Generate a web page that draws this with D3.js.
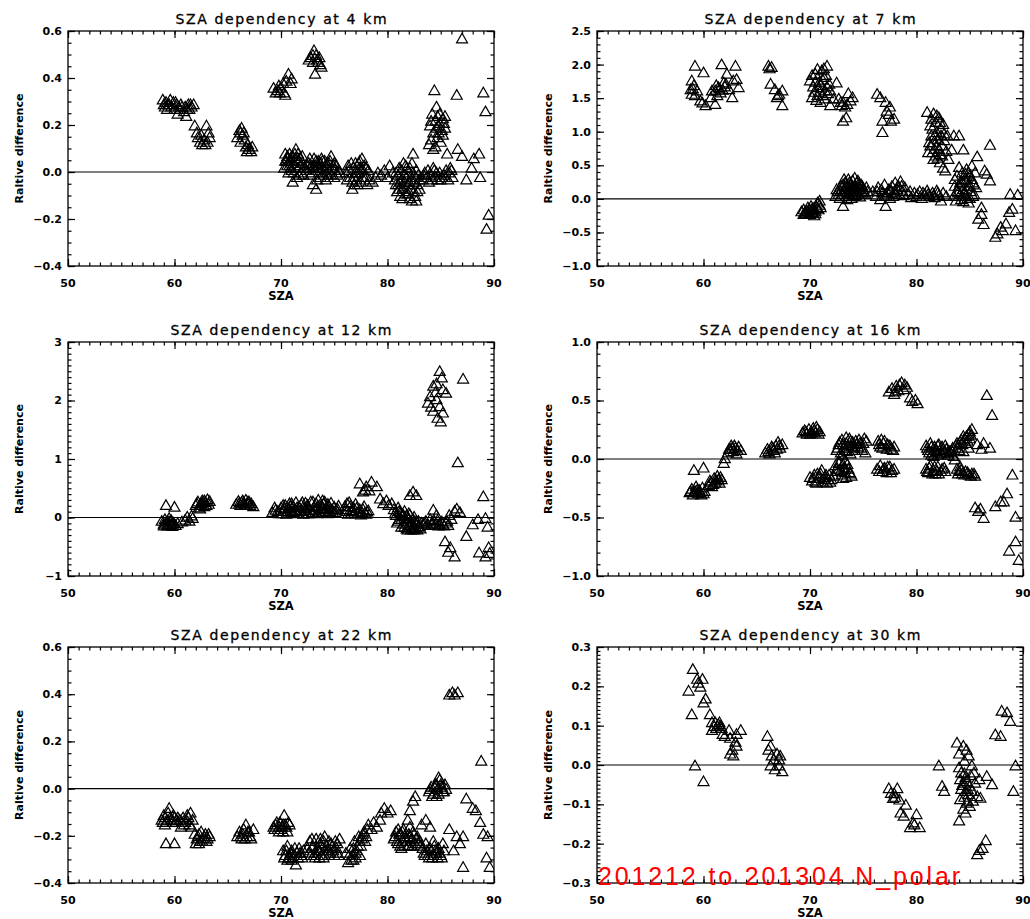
<!DOCTYPE html>
<html><head><meta charset="utf-8">
<script src="https://cdn.jsdelivr.net/npm/d3@7"></script>
<style>body{margin:0;background:#fff}svg{display:block}</style>
</head><body>
<svg id="c" width="1030" height="919"></svg>
<script>
// ---------- data ----------
const altitudes = [4, 7, 12, 16, 22, 30];
const titlePrefix = "SZA dependency at ";
const xLabel = "SZA";
const yLabel = "Raltive difference";
const footNote = "201212 to 201304 N_polar";
const xDomain = [50, 90];
const xTicks = [50, 60, 70, 80, 90];
const yDomains = [[-0.4, 0.6], [-1, 2.5], [-1, 3], [-1, 1], [-0.4, 0.6], [-0.3, 0.3]];
const yTicks = [
  [-0.4, -0.2, 0, 0.2, 0.4, 0.6],
  [-1, -0.5, 0, 0.5, 1, 1.5, 2, 2.5],
  [-1, 0, 1, 2, 3],
  [-1, -0.5, 0, 0.5, 1],
  [-0.4, -0.2, 0, 0.2, 0.4, 0.6],
  [-0.3, -0.2, -0.1, 0, 0.1, 0.2, 0.3]
];
const yMinorSteps = [0.05, 0.1, 0.1, 0.1, 0.05, 0.01];
const yFormats = [".1f", ".1f", "d", ".1f", ".1f", ".1f"];

const p4 = [
[58.9,0.31],[59.0,0.29],[59.1,0.28],[59.2,0.30],[59.4,0.29],[59.6,0.31],[59.7,0.28],[59.9,0.30],[60.0,0.27],[60.2,0.29],[60.3,0.25],[60.5,0.27],[60.7,0.28],[60.9,0.26],[61.0,0.28],[61.1,0.24],[61.3,0.29],[61.4,0.27],[61.6,0.28],[61.8,0.29],[59.3,0.27],[60.6,0.29],
[59.5,0.29],[60.1,0.30],[60.4,0.28],[61.2,0.27],[61.5,0.29],
[61.9,0.20],[62.1,0.17],[62.2,0.15],[62.4,0.13],[62.6,0.12],[62.8,0.14],[62.9,0.12],[63.0,0.20],[63.2,0.17],[63.3,0.15],[62.5,0.16],[63.1,0.13],
[65.9,0.15],[66.1,0.18],[66.2,0.17],[66.3,0.19],[66.4,0.16],[66.5,0.17],[66.6,0.14],[66.2,0.13],[66.7,0.11],[66.9,0.12],[67.0,0.10],[67.2,0.09],[67.3,0.11],[66.8,0.09],
[69.3,0.36],[69.5,0.34],[69.7,0.35],[69.8,0.37],[70.0,0.36],[70.2,0.38],[70.3,0.34],[70.4,0.33],[70.5,0.39],[70.7,0.42],[70.9,0.38],[71.0,0.40],[69.9,0.34],
[72.6,0.48],[72.8,0.49],[73.0,0.50],[73.1,0.52],[73.3,0.50],[73.4,0.48],[73.5,0.47],[73.7,0.46],[73.8,0.45],[73.2,0.42],[73.6,0.49],[73.0,0.47],
[70.3,0.02],[70.5,0.05],[70.6,0.07],[70.8,0.03],[70.9,0.06],[71.0,0.01],[71.1,-0.04],[71.2,0.04],[71.3,0.08],[71.4,0.10],[71.5,0.05],[71.6,0.02],[71.8,0.06],[71.9,0.00],[72.0,0.04],[72.2,0.02],[70.7,0.00],[71.3,0.03],[71.7,-0.01],[70.4,0.08],
[70.4,0.05],[70.6,0.03],[70.8,0.08],[71.0,0.05],[71.2,0.00],[71.4,0.06],[71.6,0.08],[71.8,0.03],[72.0,0.07],[72.1,-0.01],[70.9,0.02],[71.5,-0.02],[70.6,0.06],[71.1,0.07],[71.7,0.05],
[72.4,0.01],[72.6,0.04],[72.8,-0.01],[72.9,0.03],[73.0,-0.05],[73.1,0.06],[73.2,0.01],[73.3,-0.07],[73.4,0.03],[73.5,0.05],[73.6,0.00],[73.7,0.04],[73.8,0.06],[73.9,0.02],[74.0,-0.01],[74.1,0.05],[74.2,0.03],[74.3,0.00],[74.5,0.04],[74.7,0.07],[74.8,0.02],[75.0,-0.02],[75.1,0.01],[75.3,-0.01],[75.5,0.00],[74.4,-0.02],[73.7,0.02],[72.7,0.02],
[72.5,0.03],[72.7,0.06],[72.9,0.00],[73.1,0.03],[73.3,0.05],[73.5,0.02],[73.7,-0.02],[73.9,0.05],[74.1,0.01],[74.3,0.04],[74.5,0.01],[74.6,0.05],[74.9,0.03],[75.2,0.03],[75.4,0.01],[73.0,0.02],[73.4,-0.03],[74.2,-0.03],[74.7,-0.01],[75.0,0.04],
[76.1,0.00],[76.3,0.03],[76.5,-0.02],[76.7,-0.07],[76.8,0.02],[77.0,0.04],[77.1,-0.03],[77.2,0.00],[77.4,0.02],[77.5,-0.04],[77.6,0.06],[77.7,0.01],[77.8,-0.02],[78.0,0.02],[78.1,-0.05],[78.3,-0.03],[76.9,-0.05],[77.3,0.04],
[76.2,-0.03],[76.4,0.01],[76.6,0.04],[76.8,-0.02],[77.0,0.00],[77.2,-0.05],[77.4,0.05],[77.6,-0.02],[77.8,0.03],[78.0,-0.02],[78.2,0.01],[76.7,-0.04],[77.5,0.01],
[78.6,-0.04],[78.9,-0.02],[79.1,0.00],[79.4,-0.01],[79.7,0.01],[80.0,-0.02],[80.2,0.03],[80.5,0.00],
[80.7,-0.03],[80.8,0.00],[80.9,-0.08],[81.0,-0.05],[81.1,0.02],[81.2,-0.10],[81.3,-0.03],[81.4,-0.07],[81.5,0.04],[81.6,-0.01],[81.7,-0.09],[81.8,0.02],[81.9,-0.05],[82.0,0.00],[82.1,-0.11],[82.2,-0.03],[82.3,0.04],[82.4,0.08],[82.5,-0.08],[82.6,-0.02],[82.7,-0.12],[82.8,-0.05],[82.9,-0.01],[83.0,-0.07],[81.5,-0.06],[82.0,-0.08],
[80.8,-0.05],[81.0,-0.01],[81.1,-0.07],[81.3,0.01],[81.4,-0.11],[81.6,-0.04],[81.7,0.03],[81.9,-0.09],[82.0,-0.04],[82.1,0.02],[82.2,-0.07],[82.3,-0.12],[82.4,0.00],[82.5,-0.04],[82.6,-0.10],[82.7,0.01],[82.8,-0.08],[83.0,-0.03],[81.2,-0.04],[81.8,-0.02],
[83.3,-0.03],[83.5,0.00],[83.7,-0.02],[83.9,-0.04],[84.1,-0.01],[84.3,0.02],[84.5,-0.02],[84.7,-0.03],[84.9,0.00],[85.1,-0.02],[85.3,-0.01],[85.5,0.01],[85.7,-0.03],[85.9,0.02],[86.1,-0.02],[84.4,0.01],
[83.4,-0.01],[83.8,0.01],[84.2,-0.03],[84.6,0.00],[85.0,-0.03],[85.4,-0.02],[85.8,0.00],[86.0,0.01],
[83.9,0.12],[84.0,0.20],[84.1,0.14],[84.2,0.25],[84.3,0.17],[84.4,0.35],[84.5,0.22],[84.6,0.28],[84.7,0.15],[84.8,0.20],[84.9,0.25],[85.0,0.13],[85.1,0.18],[85.2,0.23],[85.3,0.21],[85.4,0.19],[84.5,0.11],[84.8,0.17],
[84.3,0.10],[84.6,0.19],[84.9,0.21],[85.2,0.16],[84.1,0.22],[85.4,0.24],[84.7,0.24],
[85.6,0.08],[86.6,0.10],[87.0,0.07],[87.4,-0.03],[88.1,0.06],[88.6,0.08],[87.9,0.02],[88.7,-0.02],[87.0,0.57],[86.5,0.33],[89.0,0.34],[89.2,0.26],[89.5,-0.18],[89.3,-0.24]
];

const p7 = [
[59.2,1.99],[60.0,1.89],[58.9,1.77],[58.8,1.64],[58.9,1.57],[59.7,1.47],[60.2,1.40],[61.1,1.42],[60.8,1.62],[61.4,1.67],[61.9,1.74],[61.7,2.01],[62.2,1.87],[62.4,1.64],[62.7,1.52],[63.0,1.99],[63.1,1.79],[63.3,1.67],[62.8,1.77],[59.4,1.62],[61.1,1.62],[61.6,1.59],[59.1,1.70],[61.3,1.55],[62.0,1.68],[59.9,1.44],
[59.2,1.55],[59.0,1.65],[61.5,1.65],[61.8,1.63],[62.1,1.72],[60.7,1.52],[61.2,1.70],
[66.1,1.99],[66.4,1.97],[66.2,1.95],[66.3,1.72],[66.7,1.64],[67.1,1.57],[67.4,1.62],[67.4,1.40],[66.9,1.52],[67.0,1.55],
[70.7,1.94],[71.6,1.99],[70.0,1.77],[70.2,1.52],[71.0,1.45],[71.9,1.40],[70.8,1.67],[71.3,1.82],[71.4,1.62],[70.5,1.87],[71.1,1.92],[71.8,1.72],[72.2,1.50],[72.5,1.74],[70.4,1.60],[70.9,1.75],[71.2,1.55],[71.5,1.85],[70.6,1.48],[71.0,1.70],[71.7,1.58],[70.3,1.68],
[70.2,1.85],[70.5,1.75],[70.9,1.60],[71.2,1.78],[71.4,1.50],[71.6,1.68],[71.9,1.62],[70.7,1.55],[71.3,1.95],
[73.1,1.45],[73.6,1.58],[73.8,1.47],[73.1,1.17],[73.4,1.22],[72.7,1.50],[73.0,1.40],[74.0,1.52],[73.3,1.38],[72.9,1.45],[73.5,1.42],
[76.3,1.57],[77.1,1.45],[77.2,1.32],[76.8,1.17],[77.6,1.17],[76.8,1.00],[77.9,1.20],[77.4,1.27],[76.6,1.52],[77.5,1.38],
[81.0,1.30],[82.1,1.22],[81.3,1.10],[81.9,1.00],[81.6,0.85],[82.6,0.88],[81.1,0.70],[82.2,0.67],[82.8,0.72],[82.5,0.47],[82.7,0.43],[83.5,0.95],[84.0,0.95],[83.3,0.74],[84.4,0.74],[85.7,0.64],[86.9,0.81],[81.5,1.05],[81.8,1.15],[82.0,0.90],[82.3,1.05],[81.4,0.95],[82.4,0.80],[81.7,0.75],[82.0,0.62],[81.2,0.85],[82.9,0.95],[81.9,1.25],[82.5,1.12],[81.6,0.60],[83.0,0.60],[82.2,0.55],
[81.3,0.80],[81.5,0.70],[81.7,0.95],[81.9,0.80],[82.1,0.75],[82.3,0.95],[82.4,0.65],[81.8,0.65],[82.6,0.98],[81.4,1.20],[82.2,1.15],[81.6,1.28],
[86.4,0.43],[86.6,0.38],[86.9,0.28],[86.1,-0.12],[85.8,-0.29],[86.3,-0.37],[86.1,-0.22],[87.4,-0.56],[87.9,-0.41],[88.4,-0.36],[88.7,-0.19],[89.0,-0.14],[89.3,-0.46],[88.8,0.08],[89.5,0.07],[88.1,-0.46],[87.6,-0.51],
[69.2,-0.18],[69.4,-0.15],[69.6,-0.20],[69.8,-0.12],[69.9,-0.22],[70.0,-0.16],[70.1,-0.10],[70.2,-0.19],[70.3,-0.13],[70.4,-0.24],[70.5,-0.17],[70.6,-0.11],[70.7,-0.05],[70.8,-0.15],[70.9,-0.02],[71.0,-0.12],[69.7,-0.17],[70.3,-0.20],
[69.5,-0.20],[69.8,-0.18],[70.0,-0.22],[70.2,-0.14],[70.5,-0.21],[70.7,-0.13],[69.4,-0.22],[70.9,-0.08],
[72.4,0.05],[72.6,0.12],[72.8,0.02],[72.9,0.20],[73.0,0.08],[73.1,-0.10],[73.2,0.15],[73.3,0.25],[73.4,0.05],[73.5,0.18],[73.6,0.30],[73.7,0.10],[73.8,0.22],[73.9,0.02],[74.0,0.28],[74.1,0.14],[74.2,0.20],[74.3,0.06],[74.4,0.25],[74.5,0.12],[74.6,0.18],[74.7,0.04],[74.8,0.22],[74.9,0.10],[75.0,0.15],[75.2,0.08],[75.4,0.12],[73.5,0.00],[74.0,0.08],[73.8,0.15],[74.5,0.28],[73.2,0.30],
[72.5,0.15],[72.7,0.08],[72.9,0.12],[73.1,0.22],[73.3,0.12],[73.4,0.20],[73.6,0.08],[73.7,0.25],[73.9,0.18],[74.1,0.05],[74.2,0.32],[74.3,0.16],[74.4,0.10],[74.6,0.24],[74.7,0.15],[74.9,0.20],[75.1,0.10],[75.3,0.18],[73.5,0.12],[74.0,0.20],
[75.9,0.12],[76.2,0.05],[76.4,0.18],[76.6,0.00],[76.8,0.10],[77.0,0.22],[77.1,-0.10],[77.2,0.05],[77.4,0.15],[77.5,0.02],[77.7,0.20],[77.9,0.10],[78.0,0.25],[78.2,0.15],[78.4,0.08],[78.5,0.27],[78.7,0.12],[78.9,0.18],[77.8,0.05],[78.3,0.20],
[76.3,0.12],[76.7,0.15],[77.0,0.05],[77.3,0.10],[77.6,0.13],[78.1,0.08],[78.6,0.20],[78.8,0.06],
[79.2,0.08],[79.5,0.03],[79.8,0.10],[80.0,0.05],[80.3,0.12],[80.5,0.02],[80.8,0.08],[81.0,0.13],[81.2,0.05],[81.5,0.10],[81.7,0.03],[81.9,0.13],[82.1,0.06],[82.3,-0.02],[82.5,0.10],[82.8,0.05],
[79.4,0.12],[80.1,0.08],[80.6,0.10],[81.1,0.08],[81.6,0.06],[82.0,0.10],
[83.5,0.05],[83.6,0.20],[83.7,-0.02],[83.8,0.35],[83.9,0.10],[84.0,0.48],[84.1,0.25],[84.2,0.00],[84.3,0.40],[84.4,0.15],[84.5,0.30],[84.6,0.05],[84.7,0.45],[84.8,0.20],[84.9,-0.05],[85.0,0.35],[85.1,0.12],[85.2,0.50],[85.3,0.25],[85.4,0.08],[85.5,0.40],[85.6,0.18],[84.2,0.28],[84.6,0.38],[85.0,0.02],[84.4,-0.03],
[83.6,0.30],[83.8,0.12],[84.0,0.20],[84.1,0.08],[84.3,0.25],[84.5,0.10],[84.7,0.30],[84.8,0.02],[85.0,0.20],[85.2,0.30],[85.4,0.22],[84.3,0.05],[84.9,0.40],[85.3,0.05]
];

const p12 = [
[59.2,0.22],[60.0,0.19],[58.8,-0.05],[59.0,-0.10],[59.1,-0.02],[59.3,-0.13],[59.4,-0.06],[59.5,0.00],[59.6,-0.11],[59.7,-0.04],[59.8,-0.14],[59.9,-0.08],[60.1,-0.12],[60.3,-0.09],
[59.2,-0.08],[59.4,-0.12],[59.6,-0.05],[59.8,-0.10],[59.0,-0.13],
[60.7,-0.06],[61.0,-0.03],[61.2,0.02],[61.4,-0.05],[61.6,0.04],[61.7,0.00],
[62.0,0.22],[62.2,0.28],[62.3,0.18],[62.5,0.25],[62.6,0.30],[62.8,0.20],[62.9,0.27],[63.1,0.32],[63.2,0.24],[63.3,0.29],[62.4,0.16],
[62.1,0.25],[62.4,0.22],[62.7,0.27],[63.0,0.22],[62.8,0.30],
[65.8,0.24],[66.0,0.29],[66.2,0.22],[66.4,0.30],[66.5,0.26],[66.7,0.31],[66.8,0.23],[67.0,0.28],[67.2,0.25],[67.4,0.20],
[66.1,0.26],[66.3,0.27],[66.6,0.22],[66.9,0.28],[67.1,0.22],
[69.2,0.10],[69.5,0.14],[69.8,0.08],[70.0,0.18],[70.2,0.12],[70.4,0.22],[70.5,0.07],[70.7,0.16],[70.8,0.25],[71.0,0.10],[71.1,0.20],[71.3,0.14],[71.4,0.27],[71.6,0.09],[71.7,0.19],[71.9,0.23],[72.0,0.12],[72.2,0.17],[72.4,0.08],[72.5,0.22],[72.7,0.13],[72.8,0.28],[73.0,0.10],[73.1,0.19],[73.3,0.25],[73.4,0.08],[73.5,0.31],[73.7,0.15],[73.8,0.22],[74.0,0.10],[74.1,0.28],[74.3,0.17],[74.4,0.24],[74.6,0.12],[74.7,0.26],[74.9,0.09],[75.0,0.19],[75.2,0.14],[75.4,0.21],[73.9,0.30],[72.3,0.26],[70.9,0.12],
[69.4,0.18],[69.7,0.12],[70.1,0.08],[70.3,0.16],[70.6,0.11],[70.9,0.20],[71.2,0.08],[71.5,0.18],[71.8,0.13],[72.1,0.07],[72.3,0.14],[72.6,0.18],[72.9,0.09],[73.2,0.14],[73.6,0.10],[73.9,0.17],[74.2,0.12],[74.5,0.20],[74.8,0.15],[75.1,0.10],[75.3,0.16],[71.0,0.25],[72.0,0.27],[73.0,0.28],[74.0,0.24],[70.2,0.22],[73.5,0.20],[72.6,0.08],[74.4,0.08],[71.4,0.12],
[76.0,0.20],[76.2,0.12],[76.4,0.27],[76.6,0.09],[76.8,0.18],[77.0,0.24],[77.2,0.08],[77.4,0.15],[77.6,0.10],[77.8,0.20],[78.0,0.07],[78.2,0.13],
[76.1,0.15],[76.3,0.07],[76.5,0.20],[76.7,0.13],[76.9,0.08],[77.1,0.17],[77.3,0.11],[77.5,0.06],[77.7,0.15],[77.9,0.09],[78.1,0.11],[76.2,0.25],
[77.4,0.59],[78.5,0.62],[78.0,0.54],[77.7,0.45],[79.0,0.54],[77.9,0.48],[78.3,0.47],
[79.3,0.33],[79.9,0.30],[80.4,0.25],[79.6,0.25],[80.1,0.22],
[80.6,0.15],[80.8,0.05],[80.9,-0.08],[81.0,0.18],[81.1,-0.02],[81.2,0.10],[81.3,-0.15],[81.4,0.03],[81.5,-0.10],[81.6,0.12],[81.7,-0.05],[81.8,-0.18],[81.9,0.00],[82.0,-0.12],[82.1,0.06],[82.2,-0.20],[82.3,-0.08],[82.4,-0.15],[82.5,0.02],[82.6,-0.18],[82.7,-0.10],[82.8,-0.20],[82.9,-0.05],[83.0,-0.14],[83.2,-0.08],[81.3,0.08],[81.8,0.05],[82.0,-0.02],
[80.7,0.08],[81.0,-0.05],[81.1,0.12],[81.3,-0.02],[81.5,0.05],[81.6,-0.15],[81.8,-0.08],[82.0,0.08],[82.2,-0.12],[82.4,-0.02],[82.5,-0.20],[82.7,-0.05],[82.9,-0.15],[83.1,-0.18],[82.3,-0.18],[81.9,-0.20],
[82.4,0.45],[82.1,0.39],[82.7,0.39],
[83.4,-0.10],[83.6,-0.05],[83.8,-0.12],[84.0,-0.02],[84.3,0.14],[84.2,-0.08],[84.5,-0.12],[84.7,-0.04],[84.9,-0.10],[85.1,-0.06],[85.3,-0.13],[85.5,-0.08],[85.8,0.05],[86.0,-0.02],[86.3,0.12],[86.5,0.16],[86.8,0.10],[85.7,-0.12],
[83.5,-0.08],[84.1,-0.10],[84.4,-0.05],[84.8,-0.13],[85.2,-0.10],[85.6,-0.05],[84.6,0.05],
[84.9,2.51],[85.1,2.40],[84.3,2.26],[85.2,2.20],[84.0,2.08],[84.6,2.03],[83.8,1.97],[84.9,1.91],[84.3,1.83],[85.2,1.80],[84.7,1.71],[85.5,2.14],[84.5,2.15],[84.1,1.90],[85.0,1.65],[84.6,2.30],
[87.1,2.38],[86.6,0.95],[89.0,0.37],[85.4,-0.40],[85.9,-0.50],[86.3,-0.66],[85.7,-0.58],[87.4,-0.31],[88.0,-0.11],[88.5,-0.02],[88.6,-0.59],[89.2,0.00],[89.5,-0.50],[89.2,-0.66],[89.6,-0.60],[89.4,-0.15]
];

const p16 = [
[59.1,-0.09],[60.0,-0.07],[58.7,-0.28],[58.9,-0.25],[59.0,-0.30],[59.2,-0.27],[59.3,-0.23],[59.5,-0.29],[59.6,-0.26],[59.8,-0.30],[59.9,-0.24],[60.1,-0.27],
[58.8,-0.27],[59.1,-0.28],[59.4,-0.26],[59.7,-0.28],[60.0,-0.29],
[60.5,-0.22],[60.7,-0.19],[60.9,-0.21],[61.0,-0.16],[61.2,-0.18],[61.3,-0.14],[61.5,-0.20],[61.7,-0.17],
[60.6,-0.18],[60.8,-0.23],[61.1,-0.20],[61.4,-0.17],[61.6,-0.15],
[61.9,-0.03],[62.0,0.01],
[62.3,0.06],[62.5,0.09],[62.6,0.12],[62.8,0.07],[63.0,0.10],[63.1,0.05],[63.3,0.11],[63.5,0.08],
[62.7,0.10],[62.9,0.12],[63.2,0.08],[62.4,0.09],
[65.8,0.06],[66.0,0.09],[66.2,0.05],[66.4,0.11],[66.6,0.08],[66.8,0.12],[67.0,0.15],[67.2,0.10],[67.4,0.13],
[66.1,0.07],[66.5,0.10],[66.9,0.09],[67.1,0.12],[66.7,0.06],
[69.3,0.23],[69.5,0.25],[69.7,0.22],[69.9,0.26],[70.1,0.24],[70.3,0.27],[70.5,0.23],[70.7,0.26],[70.9,0.24],
[69.6,0.24],[70.0,0.22],[70.4,0.25],[70.6,0.28],[70.8,0.22],[70.2,0.23],
[70.0,-0.15],[70.2,-0.18],[70.4,-0.13],[70.6,-0.20],[70.8,-0.16],[71.0,-0.12],[71.2,-0.19],[71.4,-0.15],[71.6,-0.20],[71.8,-0.13],[72.0,-0.17],[72.2,-0.14],[71.1,-0.09],
[70.3,-0.16],[70.5,-0.19],[70.9,-0.14],[71.3,-0.17],[71.5,-0.13],[71.7,-0.17],[71.9,-0.19],[70.7,-0.12],
[72.5,0.08],[72.7,0.13],[72.9,0.06],[73.0,0.17],[73.2,0.10],[73.4,0.14],[73.5,0.07],[73.7,0.18],[73.9,0.11],[74.0,0.15],[74.2,0.08],[74.4,0.13],[74.6,0.17],[74.8,0.10],[75.0,0.14],[75.2,0.06],[75.3,0.16],[73.8,0.05],
[72.6,0.10],[72.8,0.15],[73.1,0.13],[73.3,0.08],[73.6,0.12],[73.8,0.16],[74.1,0.10],[74.3,0.16],[74.5,0.11],[74.7,0.14],[74.9,0.08],[75.1,0.18],[73.0,0.04],[73.4,0.19],
[72.4,-0.05],[72.6,-0.10],[72.8,-0.02],[73.0,-0.13],[73.2,-0.07],[73.4,-0.15],[73.5,-0.04],[73.7,-0.11],[73.9,-0.14],[73.3,-0.01],
[72.5,-0.08],[72.7,-0.03],[72.9,-0.09],[73.1,-0.04],[73.3,-0.11],[73.6,-0.08],[73.8,-0.12],[73.1,-0.16],
[76.4,0.16],[76.6,0.11],[76.9,0.14],[77.2,0.09],[77.5,0.12],[77.8,0.08],[76.7,0.17],
[76.5,0.13],[76.8,0.10],[77.0,0.16],[77.3,0.13],[77.6,0.09],[77.9,0.11],
[76.3,-0.08],[76.6,-0.05],[76.8,-0.10],[77.0,-0.07],[77.2,-0.11],[77.5,-0.06],[77.7,-0.09],
[76.5,-0.10],[76.9,-0.08],[77.3,-0.06],[77.6,-0.11],[77.9,-0.08],
[78.6,0.66],[77.7,0.61],[78.1,0.63],[79.4,0.53],[79.9,0.51],[80.1,0.48],[79.1,0.62],[78.3,0.59],[77.4,0.58],[78.8,0.60],
[78.0,0.58],[78.4,0.64],[78.9,0.64],[79.6,0.50],[77.9,0.56],
[80.9,0.12],[81.1,0.08],[81.3,0.14],[81.5,0.06],[81.7,0.11],[81.9,0.07],[82.1,0.13],[82.3,0.05],[82.5,0.09],[82.7,0.12],[82.9,0.06],[81.6,0.03],
[81.0,0.10],[81.2,0.06],[81.4,0.11],[81.8,0.09],[82.0,0.12],[82.2,0.08],[82.4,0.11],[82.6,0.06],[82.8,0.09],[83.1,0.07],[81.4,0.04],[82.0,0.04],
[80.9,-0.08],[81.1,-0.11],[81.3,-0.05],[81.6,-0.09],[81.8,-0.12],[82.0,-0.06],[82.3,-0.10],[82.6,-0.07],
[81.0,-0.10],[81.2,-0.07],[81.5,-0.12],[81.7,-0.06],[81.9,-0.10],[82.1,-0.12],[82.4,-0.08],[82.7,-0.10],
[83.0,0.04],[83.3,0.08],[83.5,0.03],[83.7,0.12],[83.9,0.10],[84.1,0.15],[84.3,0.13],[84.5,0.18],[84.7,0.20],[84.8,0.16],[85.0,0.24],[85.1,0.21],[84.4,0.07],[83.6,0.00],
[83.2,0.06],[83.4,0.10],[83.8,0.14],[84.0,0.08],[84.2,0.17],[84.4,0.20],[84.6,0.14],[84.9,0.22],[85.0,0.18],[85.2,0.26],
[83.8,-0.08],[84.0,-0.10],[84.3,-0.12],[84.6,-0.10],[84.9,-0.13],[85.2,-0.12],[85.5,-0.14],[84.1,-0.06],
[83.9,-0.12],[84.2,-0.09],[84.5,-0.13],[84.8,-0.11],[85.1,-0.14],[85.4,-0.12],
[84.9,0.10],[85.7,0.13],[86.3,0.14],[86.9,0.10],[86.6,0.55],[87.1,0.38],[86.1,0.09],
[85.5,-0.41],[85.8,-0.44],[86.3,-0.50],[87.4,-0.40],[87.9,-0.36],[88.5,-0.29],[89.0,-0.13],[89.3,-0.49],[88.7,-0.78],[89.3,-0.70],[89.6,-0.86],[88.2,-0.36],[86.0,-0.42]
];

const p22 = [
[58.8,-0.13],[59.0,-0.11],[59.2,-0.14],[59.4,-0.10],[59.5,-0.08],[59.7,-0.13],[59.9,-0.11],[60.1,-0.14],[60.3,-0.12],[59.2,-0.23],[60.0,-0.23],[59.1,-0.15],
[58.9,-0.14],[59.1,-0.12],[59.3,-0.13],[59.6,-0.12],[59.8,-0.14],[60.0,-0.12],[60.2,-0.13],
[60.5,-0.13],[60.6,-0.16],[60.8,-0.12],[61.0,-0.14],[61.2,-0.11],[61.4,-0.15],[61.7,-0.13],[61.5,-0.10],
[60.7,-0.14],[60.9,-0.15],[61.1,-0.13],[61.3,-0.12],[61.6,-0.16],
[61.9,-0.19],[62.0,-0.23],[62.2,-0.20],[62.4,-0.22],[62.5,-0.18],[62.7,-0.21],[62.9,-0.19],[63.1,-0.21],[63.3,-0.20],[62.3,-0.23],
[62.1,-0.21],[62.3,-0.19],[62.6,-0.22],[62.8,-0.20],[63.0,-0.22],[63.2,-0.19],
[65.9,-0.20],[66.1,-0.18],[66.3,-0.21],[66.5,-0.17],[66.7,-0.15],[66.8,-0.20],[67.0,-0.18],[67.2,-0.21],[67.4,-0.17],
[66.2,-0.20],[66.4,-0.19],[66.6,-0.21],[66.9,-0.18],[67.1,-0.20],
[69.3,-0.16],[69.5,-0.15],[69.7,-0.17],[69.9,-0.14],[70.1,-0.16],[70.3,-0.11],[70.4,-0.15],[70.6,-0.18],[70.8,-0.15],[70.2,-0.18],
[69.4,-0.17],[69.6,-0.14],[69.8,-0.16],[70.0,-0.17],[70.2,-0.15],[70.5,-0.16],[70.7,-0.14],[69.8,-0.18],
[70.2,-0.26],[70.4,-0.28],[70.6,-0.24],[70.8,-0.29],[71.0,-0.26],[71.2,-0.28],[71.4,-0.32],[71.5,-0.27],[71.7,-0.25],[71.9,-0.28],[72.1,-0.26],
[70.3,-0.29],[70.5,-0.26],[70.7,-0.29],[70.9,-0.27],[71.1,-0.29],[71.3,-0.25],[71.6,-0.29],[71.8,-0.27],[72.0,-0.29],[71.0,-0.30],[70.6,-0.30],
[72.5,-0.25],[72.7,-0.22],[72.8,-0.28],[73.0,-0.24],[73.2,-0.27],[73.3,-0.21],[73.5,-0.26],[73.7,-0.23],[73.8,-0.28],[74.0,-0.22],[74.2,-0.26],[74.3,-0.24],[74.5,-0.28],[74.7,-0.23],[74.9,-0.26],[75.1,-0.22],[75.3,-0.27],[75.5,-0.21],[73.6,-0.29],[74.1,-0.20],
[72.6,-0.27],[72.9,-0.25],[73.1,-0.28],[73.4,-0.25],[73.6,-0.26],[73.9,-0.25],[74.1,-0.28],[74.4,-0.26],[74.6,-0.27],[74.8,-0.24],[75.0,-0.28],[75.2,-0.25],[75.4,-0.28],[73.2,-0.29],[74.0,-0.29],[74.5,-0.22],[72.9,-0.21],[73.7,-0.21],[75.3,-0.23],
[76.1,-0.27],[76.3,-0.31],[76.5,-0.25],[76.7,-0.28],[76.9,-0.22],[77.1,-0.26],[77.3,-0.20],[77.5,-0.24],[77.7,-0.19],[77.9,-0.22],[78.1,-0.17],[76.8,-0.30],[77.4,-0.28],
[76.4,-0.28],[76.6,-0.30],[76.8,-0.25],[77.0,-0.29],[77.2,-0.24],[77.4,-0.22],[77.6,-0.21],[77.8,-0.18],[78.0,-0.20],[77.0,-0.27],
[78.2,-0.15],[78.5,-0.17],[78.7,-0.14],[79.0,-0.16],[79.3,-0.13],
[79.4,-0.10],[79.7,-0.08],[80.0,-0.10],[80.3,-0.09],
[80.6,-0.21],[80.8,-0.18],[81.0,-0.23],[81.2,-0.19],[81.4,-0.22],[81.5,-0.17],[81.7,-0.21],[81.9,-0.24],[82.0,-0.19],[82.2,-0.22],[82.4,-0.18],[82.6,-0.23],[82.8,-0.20],[83.0,-0.22],[81.3,-0.25],[82.1,-0.16],
[80.7,-0.20],[80.9,-0.22],[81.1,-0.19],[81.2,-0.24],[81.4,-0.18],[81.6,-0.20],[81.8,-0.22],[82.0,-0.24],[82.1,-0.20],[82.3,-0.21],[82.5,-0.19],[82.7,-0.21],[82.9,-0.23],[81.0,-0.17],[81.6,-0.24],[82.3,-0.24],
[82.1,-0.09],[82.4,-0.05],[82.6,-0.03],[81.9,-0.13],
[83.2,-0.15],[83.6,-0.13],[84.0,-0.16],
[83.1,-0.24],[83.4,-0.27],[83.6,-0.23],[83.8,-0.28],[84.0,-0.25],[84.2,-0.29],[84.4,-0.24],[84.6,-0.27],[84.8,-0.25],[85.0,-0.28],[85.2,-0.23],[84.3,-0.22],
[83.3,-0.25],[83.5,-0.28],[83.7,-0.26],[83.9,-0.29],[84.1,-0.26],[84.3,-0.28],[84.5,-0.26],[84.7,-0.29],[84.9,-0.27],[85.1,-0.29],[85.3,-0.26],
[83.9,-0.01],[84.1,0.01],[84.3,-0.02],[84.5,0.02],[84.7,0.00],[84.9,0.04],[85.1,0.01],[85.3,-0.01],[85.5,0.00],[84.6,-0.03],
[84.0,0.00],[84.2,-0.03],[84.4,0.01],[84.6,0.02],[84.8,-0.02],[85.0,0.02],[85.2,-0.01],[85.4,0.02],[84.8,0.05],
[85.8,0.40],[86.1,0.41],[86.3,0.40],[86.6,0.41],
[85.8,-0.17],[86.5,-0.20],[86.8,-0.23],[87.1,-0.20],[86.2,-0.26],
[87.4,-0.04],[88.0,-0.08],[88.3,-0.09],[88.7,-0.14],[89.0,-0.19],[89.4,-0.20],[89.3,-0.29],[89.6,-0.33],[87.1,-0.33],[88.8,0.12]
];

const p30 = [
[59.0,0.245],[58.6,0.19],[58.9,0.13],[59.4,0.22],[59.5,0.21],[59.9,0.22],[59.7,0.20],[59.2,0.00],[60.0,-0.04],[60.2,0.17],[60.0,0.16],
[60.6,0.13],[60.8,0.11],[61.0,0.10],[61.1,0.11],[61.3,0.10],[61.4,0.105],[61.6,0.10],[61.7,0.095],[60.8,0.09],[61.8,0.08],[62.0,0.075],[62.4,0.09],[62.5,0.07],[62.7,0.04],[62.5,0.03],[62.8,0.025],[63.0,0.06],[63.1,0.08],[63.1,0.05],[63.5,0.09],[61.2,0.095],[61.5,0.11],
[66.0,0.075],[66.3,0.05],[66.1,0.04],[66.4,0.025],[66.6,0.015],[66.3,0.00],[66.9,0.03],[67.1,0.015],[67.2,0.025],[66.7,-0.01],[67.1,0.00],[67.4,-0.015],
[77.4,-0.058],[78.2,-0.058],[77.9,-0.071],[77.8,-0.083],[78.4,-0.087],[79.0,-0.10],[78.5,-0.12],[78.8,-0.128],[80.0,-0.124],[79.7,-0.145],[79.4,-0.157],[80.3,-0.157],[79.8,-0.15],[77.6,-0.07],[78.0,-0.08],
[82.1,0.00],[82.4,-0.052],[82.6,-0.065],
[83.8,0.058],[84.4,0.05],[84.7,0.04],[84.0,0.03],[84.9,0.025],[84.5,0.012],[84.0,-0.005],[85.2,0.00],[84.2,-0.018],[85.4,-0.018],[84.1,-0.035],[84.4,-0.044],[84.7,-0.04],[85.0,-0.052],[85.5,-0.044],[84.6,-0.065],[84.9,-0.073],[85.2,-0.065],[84.1,-0.086],[85.7,-0.078],[84.7,-0.095],[85.0,-0.103],[84.4,-0.11],[84.6,-0.12],[84.0,-0.14],[85.9,-0.035],[86.0,-0.082],[84.3,-0.05],[84.8,-0.06],[84.5,-0.08],[85.1,-0.025],[84.6,-0.03],
[84.2,-0.06],[84.8,-0.09],[85.3,-0.09],[84.5,-0.02],
[86.6,-0.027],[87.1,-0.048],[85.7,-0.226],[86.2,-0.21],[86.5,-0.19],[85.9,-0.215],
[87.4,0.079],[87.9,0.075],[88.0,0.139],[88.5,0.135],[88.8,0.113],[89.3,0.00],[89.1,-0.065]
];

const series = [p4, p7, p12, p16, p22, p30];

// ---------- drawing ----------
const svg = d3.select("#c");
const cols = [[68, 494], [597, 1023]];
const rows = [[31, 266], [342, 576], [647, 883]];
const MAJ = 7, MIN = 3.5;
const tri = "M0,-4.8L5.5,4.8L-5.5,4.8Z";
const defs = svg.append("defs");

function rangeStep(lo, hi, step) {
  const n = Math.round((hi - lo) / step);
  return d3.range(n + 1).map(k => +(lo + k * step).toFixed(6));
}

series.forEach((data, i) => {
  const c = cols[i % 2], r = rows[Math.floor(i / 2)];
  const x = d3.scaleLinear().domain(xDomain).range(c);
  const y = d3.scaleLinear().domain(yDomains[i]).range([r[1], r[0]]);
  const g = svg.append("g");
  const cid = "clip" + i;
  defs.append("clipPath").attr("id", cid).append("rect")
    .attr("x", c[0]).attr("y", r[0]).attr("width", c[1] - c[0]).attr("height", r[1] - r[0]);

  g.append("line").attr("x1", x(xDomain[0])).attr("x2", x(xDomain[1]))
    .attr("y1", y(0)).attr("y2", y(0)).attr("stroke", "#000").attr("stroke-width", 1.2);

  g.append("g").attr("clip-path", `url(#${cid})`)
    .selectAll("path").data(data).join("path")
    .attr("d", tri)
    .attr("transform", d => `translate(${x(d[0]).toFixed(2)},${y(d[1]).toFixed(2)})`)
    .attr("fill", "none").attr("stroke", "#000").attr("stroke-width", 1.2);

  const xMinor = rangeStep(xDomain[0], xDomain[1], 1);
  const yMinor = rangeStep(yDomains[i][0], yDomains[i][1], yMinorSteps[i]);
  const axes = [
    [d3.axisBottom(x).tickValues(xMinor).tickSize(-MIN), `translate(0,${r[1]})`],
    [d3.axisBottom(x).tickValues(xTicks).tickSize(-MAJ), `translate(0,${r[1]})`],
    [d3.axisTop(x).tickValues(xMinor).tickSize(-MIN), `translate(0,${r[0]})`],
    [d3.axisTop(x).tickValues(xTicks).tickSize(-MAJ), `translate(0,${r[0]})`],
    [d3.axisLeft(y).tickValues(yMinor).tickSize(-MIN), `translate(${c[0]},0)`],
    [d3.axisLeft(y).tickValues(yTicks[i]).tickSize(-MAJ), `translate(${c[0]},0)`],
    [d3.axisRight(y).tickValues(yMinor).tickSize(-MIN), `translate(${c[1]},0)`],
    [d3.axisRight(y).tickValues(yTicks[i]).tickSize(-MAJ), `translate(${c[1]},0)`]
  ];
  axes.forEach(([ax, tr]) => {
    const a = g.append("g").attr("transform", tr).call(ax.tickFormat("").tickSizeOuter(0));
    a.select(".domain").remove();
    a.selectAll("line").attr("stroke", "#000").attr("stroke-width", 1.2);
    a.selectAll("text").remove();
  });

  g.append("rect").attr("x", c[0]).attr("y", r[0]).attr("width", c[1] - c[0]).attr("height", r[1] - r[0])
    .attr("fill", "none").attr("stroke", "#000").attr("stroke-width", 1.3);

  const fmt = d3.format(yFormats[i]);
  g.selectAll("text.yl").data(yTicks[i]).join("text").attr("class", "yl")
    .attr("x", c[0] - 6).attr("y", d => y(d)).attr("dy", "0.36em")
    .attr("text-anchor", "end").attr("font-family", "DejaVu Sans").attr("font-weight", "bold")
    .attr("font-size", 11).text(d => fmt(d));
  g.selectAll("text.xl").data(xTicks).join("text").attr("class", "xl")
    .attr("x", d => x(d)).attr("y", r[1] + 21)
    .attr("text-anchor", "middle").attr("font-family", "DejaVu Sans").attr("font-weight", "bold")
    .attr("font-size", 11).text(d => d);

  g.append("text").attr("x", (c[0] + c[1]) / 2).attr("y", r[1] + 34)
    .attr("text-anchor", "middle").attr("font-family", "DejaVu Sans").attr("font-weight", "bold")
    .attr("font-size", 11.5).text(xLabel);
  const ym = (r[0] + r[1]) / 2;
  const yx = c[0] - 45;
  g.append("text").attr("transform", `translate(${yx},${ym}) rotate(-90)`)
    .attr("text-anchor", "middle").attr("font-family", "DejaVu Sans").attr("font-weight", "bold")
    .attr("font-size", 11).text(yLabel);

  const t = titlePrefix + altitudes[i] + " km";
  g.append("text").attr("x", (c[0] + c[1]) / 2).attr("y", r[0] - 7)
    .attr("text-anchor", "middle").attr("font-family", "DejaVu Sans")
    .attr("font-size", 14).attr("stroke", "#000").attr("stroke-width", 0.3)
    .attr("textLength", t.length * 9.6).attr("lengthAdjust", "spacing").text(t);
});

svg.append("text").attr("x", cols[1][0] + 1).attr("y", rows[2][1] + 2)
  .attr("font-family", "Liberation Sans").attr("font-size", 25).attr("fill", "#ff0000")
  .attr("textLength", 362).attr("lengthAdjust", "spacing").text(footNote);
</script>
</body></html>
